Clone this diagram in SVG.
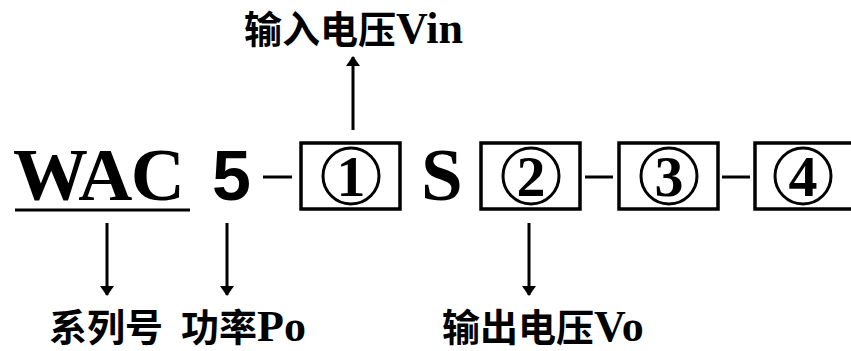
<svg xmlns="http://www.w3.org/2000/svg" width="851" height="351" viewBox="0 0 851 351">
<style>
.box{fill:none;stroke:#000;stroke-width:3.5}
.circ{fill:none;stroke:#000;stroke-width:3}
.dig{font-family:"Liberation Serif",serif;font-weight:bold;font-size:58px;text-anchor:middle}
.big{font-family:"Liberation Serif",serif;font-weight:bold;font-size:75px}
.lbl{font-family:"Noto Sans CJK SC",sans-serif;font-weight:bold;font-size:38px}
.lat{font-family:"Liberation Serif",serif;font-weight:bold;font-size:44px}
.line{stroke:#000;stroke-width:3;fill:none}
.conn{stroke:#000;stroke-width:3;fill:none;marker-end:url(#ah)}
</style>
<defs>
<marker id="ah" markerWidth="10" markerHeight="14" refX="9" refY="7" orient="auto" markerUnits="userSpaceOnUse" viewBox="0 0 10 14">
<path d="M0,0 L10,7 L0,14 Z" fill="#000"/>
</marker>
</defs>
<rect width="851" height="351" fill="#fff"/>
<g id="wac">
<text class="big" x="13" y="200" textLength="172" lengthAdjust="spacing">WAC</text>
<line class="line" x1="15" y1="210" x2="190" y2="210" stroke-width="4"/>
</g>
<g id="five"><text x="212" y="200" font-family="Liberation Sans,sans-serif" font-weight="bold" font-size="70">5</text></g>
<g id="s"><text class="big" x="421" y="200">S</text></g>
<g id="box1"><rect class="box" x="301" y="143" width="99" height="66"/><circle class="circ" cx="351" cy="176" r="28"/><text class="dig" x="351" y="196">1</text></g>
<g id="box2"><rect class="box" x="481" y="143" width="99" height="66"/><circle class="circ" cx="531" cy="176" r="28"/><text class="dig" x="531" y="196">2</text></g>
<g id="box3"><rect class="box" x="619" y="143" width="99" height="66"/><circle class="circ" cx="669" cy="176" r="28"/><text class="dig" x="669" y="196">3</text></g>
<g id="box4"><rect class="box" x="755" y="143" width="110" height="66"/><circle class="circ" cx="803" cy="176" r="28"/><text class="dig" x="803" y="196">4</text></g>
<g id="label-vin"><text x="244" y="43"><tspan class="lbl">输入电压</tspan><tspan class="lat">Vin</tspan></text></g>
<g id="label-series"><text class="lbl" x="49" y="341">系列号</text></g>
<g id="label-po"><text x="181" y="341"><tspan class="lbl">功率</tspan><tspan class="lat">Po</tspan></text></g>
<g id="label-vo"><text x="442" y="341"><tspan class="lbl">输出电压</tspan><tspan class="lat">Vo</tspan></text></g>
<g id="connectors">
<line class="line" x1="263" y1="177" x2="292" y2="177"/>
<line class="line" x1="585" y1="177" x2="613" y2="177"/>
<line class="line" x1="722" y1="177" x2="750" y2="177"/>
<line class="conn" x1="353" y1="130" x2="353" y2="57"/>
<line class="conn" x1="107" y1="223" x2="107" y2="295"/>
<line class="conn" x1="227" y1="223" x2="227" y2="295"/>
<line class="conn" x1="529" y1="223" x2="529" y2="295"/>
</g>
</svg>
